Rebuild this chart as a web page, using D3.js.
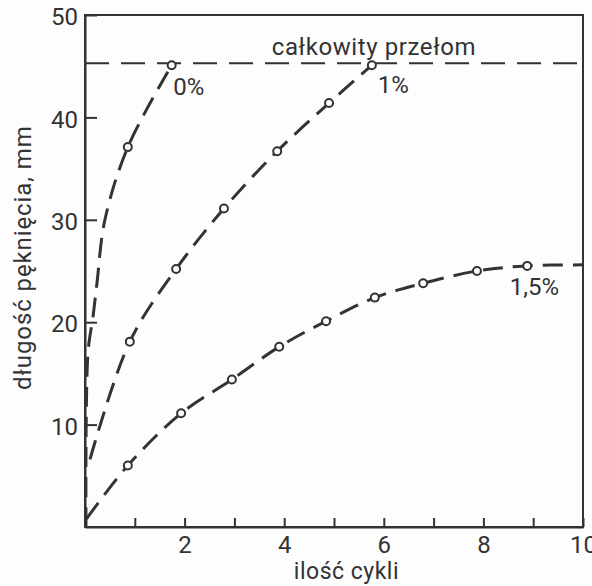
<!DOCTYPE html>
<html>
<head>
<meta charset="utf-8">
<script src="https://cdn.jsdelivr.net/npm/d3@7"></script>
<style>
  html, body { margin: 0; padding: 0; background: #fdfdfd; }
  svg { display: block; }
  text { font-family: Roboto, "DejaVu Sans", sans-serif; fill: #333; }
</style>
</head>
<body>
<svg id="chart" width="592" height="586"></svg>
<script>
// ---- data ----
const xTicks = [1, 2, 3, 4, 5, 6, 7, 8, 9, 10];
const xTickLabels = ["", "2", "", "4", "", "6", "", "8", "", "10"];
const yTicks = [10, 20, 30, 40, 50];
const yTickLabels = ["10", "20", "30", "40", "50"];

const seriesNames = ["0%", "1%", "1,5%"];

// 0 % series: traced curve points and measured points (markers)
const cycles0 = [0.02, 0.06, 0.16, 0.24, 0.40, 0.86, 1.74];
const crack0  = [0.0, 17.0, 20.5, 23.8, 30.0, 37.1, 45.1];
const mark0   = [0, 0, 0, 0, 0, 1, 1];

// 1 % series
const cycles1 = [0.10, 0.90, 1.83, 2.79, 3.86, 4.90, 5.76];
const crack1  = [6.6, 18.1, 25.2, 31.1, 36.7, 41.4, 45.1];
const mark1   = [0, 1, 1, 1, 1, 1, 1];

// 1,5 % series
const cycles15 = [0.03, 0.86, 1.93, 2.95, 3.90, 4.84, 5.82, 6.79, 7.87, 8.88, 10.0];
const crack15  = [0.8, 6.0, 11.1, 14.4, 17.6, 20.1, 22.4, 23.8, 25.0, 25.5, 25.6];
const mark15   = [0, 1, 1, 1, 1, 1, 1, 1, 1, 1, 0];

// total fracture level
const fractureLevel = 45.3;
const fractureLabel = "całkowity przełom";
const fractureLabelPos = [3.75, 46.1];

// series label positions (data coordinates)
const labelX = [1.77, 5.88, 8.53];
const labelY = [42.2, 42.4, 22.7];

const xTitle = "ilość cykli";
const yTitle = "długość pęknięcia, mm";

// ---- layout ----
const svg = d3.select("#chart");
const mLeft = 85, mRight = 583, mTop = 15, mBottom = 527;
const ink = "#333";

const x = d3.scaleLinear().domain([0, 10]).range([mLeft, mRight]);
const y = d3.scaleLinear().domain([0, 50]).range([mBottom, mTop]);

// frame
svg.append("rect")
  .attr("x", mLeft).attr("y", mTop)
  .attr("width", mRight - mLeft).attr("height", mBottom - mTop)
  .attr("fill", "none").attr("stroke", ink).attr("stroke-width", 2);

// x axis
const xAxis = d3.axisBottom(x)
  .tickValues(xTicks)
  .tickFormat((d, i) => xTickLabels[i])
  .tickSizeInner(-9).tickSizeOuter(0).tickPadding(9);
const gx = svg.append("g").attr("transform", `translate(0,${mBottom})`).call(xAxis);
gx.select(".domain").attr("stroke", ink).attr("stroke-width", 2);
gx.selectAll(".tick line").attr("stroke", ink).attr("stroke-width", 2);
gx.selectAll(".tick text").style("font-size", "24px").attr("fill", ink)
  .style("font-family", "Roboto, sans-serif");

// y axis
const yAxis = d3.axisLeft(y)
  .tickValues(yTicks)
  .tickFormat((d, i) => yTickLabels[i])
  .tickSizeInner(-12).tickSizeOuter(0).tickPadding(7);
const gy = svg.append("g").attr("transform", `translate(${mLeft},0)`).call(yAxis);
gy.select(".domain").attr("stroke", ink).attr("stroke-width", 2);
gy.selectAll(".tick line").attr("stroke", ink).attr("stroke-width", 2);
gy.selectAll(".tick text").style("font-size", "24px").attr("fill", ink)
  .style("font-family", "Roboto, sans-serif").attr("dy", "0.40em");

// axis titles
svg.append("text")
  .attr("x", x(5.25)).attr("y", 579)
  .attr("text-anchor", "middle")
  .style("font-size", "23px")
  .style("letter-spacing", "0.5px")
  .text(xTitle);

svg.append("text")
  .attr("transform", `translate(31,${y(26.3)}) rotate(-90)`)
  .attr("text-anchor", "middle")
  .style("font-size", "24px")
  .style("letter-spacing", "0.9px")
  .text(yTitle);

// total fracture line
svg.append("line")
  .attr("x1", x(0)).attr("x2", x(10))
  .attr("y1", y(fractureLevel)).attr("y2", y(fractureLevel))
  .attr("stroke", ink).attr("stroke-width", 2)
  .attr("stroke-dasharray", "24 12");
svg.append("text")
  .attr("x", x(fractureLabelPos[0])).attr("y", y(fractureLabelPos[1]))
  .style("font-size", "24px")
  .style("letter-spacing", "0.6px")
  .text(fractureLabel);

// curves
const line = d3.line()
  .x(d => x(d[0])).y(d => y(d[1]))
  .curve(d3.curveCatmullRom.alpha(0.5));

const allSeries = [
  [cycles0, crack0, mark0],
  [cycles1, crack1, mark1],
  [cycles15, crack15, mark15]
];

allSeries.forEach(([cx, cy, cm], si) => {
  const pts = cx.map((v, i) => [v, cy[i], cm[i]]);
  svg.append("path")
    .datum(pts)
    .attr("d", line)
    .attr("fill", "none")
    .attr("stroke", ink)
    .attr("stroke-width", 3)
    .attr("stroke-dasharray", "20 10");
  svg.append("g").selectAll("circle")
    .data(pts.filter(p => p[2]))
    .join("circle")
    .attr("cx", d => x(d[0])).attr("cy", d => y(d[1]))
    .attr("r", 4)
    .attr("fill", "#fdfdfd")
    .attr("stroke", ink)
    .attr("stroke-width", 2);
  svg.append("text")
    .attr("x", x(labelX[si])).attr("y", y(labelY[si]))
    .style("font-size", "24px")
    .text(seriesNames[si]);
});
</script>
</body>
</html>
